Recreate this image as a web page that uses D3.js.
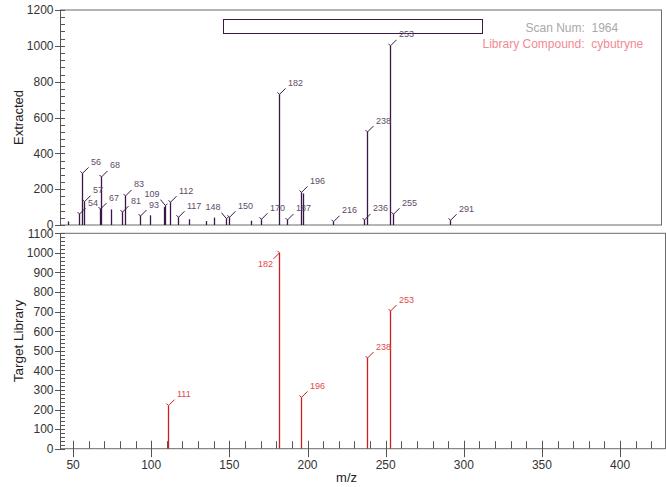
<!DOCTYPE html>
<html><head><meta charset="utf-8">
<script src="https://cdnjs.cloudflare.com/ajax/libs/d3/7.8.5/d3.min.js"></script>
<style>
html,body{margin:0;padding:0;background:#fff;}
svg{display:block;font-family:"Liberation Sans",Arial,sans-serif;}
</style></head><body>
<div id="chart"></div>
<script>
// ---- data ----
const topMz  = [47, 54, 56, 57, 67, 68, 74, 81, 83, 93, 99, 108, 109, 112, 117, 124, 135, 140, 148, 150, 164, 170, 182, 187, 196, 197, 216, 236, 238, 253, 255, 291];
const topInt = [20, 61, 288, 130, 89, 268, 87, 72, 162, 50, 54, 100, 108, 127, 43, 32, 22, 41, 35, 43, 24, 32, 729, 28, 182, 176, 18, 28, 519, 1000, 60, 26];
const topLabeled = [54, 56, 57, 67, 68, 81, 83, 93, 109, 112, 117, 148, 150, 170, 182, 187, 196, 216, 236, 238, 253, 255, 291];
const topLeftLabels = [109, 148];
const botMz  = [111, 182, 196, 238, 253];
const botInt = [220, 1000, 262, 463, 703];
const botBelowLeftLabels = [182];
const topYTicks = [0, 200, 400, 600, 800, 1000, 1200];
const botYTicks = [0, 100, 200, 300, 400, 500, 600, 700, 800, 900, 1000, 1100];
const xTicks = [50, 100, 150, 200, 250, 300, 350, 400];
const scanNum = "1964";
const compound = "cybutryne";

const W = 666, H = 487;
const svg = d3.select("#chart").append("svg").attr("width", W).attr("height", H);

const x = d3.scaleLinear().domain([50, 400]).range([73.07, 620.1]);
const yTop = d3.scaleLinear().domain([0, 1200]).range([225, 10]);
const yBot = d3.scaleLinear().domain([0, 1100]).range([448.7, 233.3]);

const axisCol = "#555", frameCol = "#6b6b6b";
const topStick = "#3b1747", topLabel = "#5e4c69";
const botStick = "#cc1f1f", botLabel = "#e34a4a";

// frames
const tL = 60.5, tR = 661.5, bL = 60.5, bR = 665.5;
svg.append("rect").attr("x", tL).attr("y", yTop(1200)).attr("width", tR - tL).attr("height", yTop(0) - yTop(1200))
  .attr("fill", "none").attr("stroke", frameCol).attr("stroke-width", 1);
svg.append("rect").attr("x", bL).attr("y", yBot(1100)).attr("width", bR - bL).attr("height", yBot(0) - yBot(1100))
  .attr("fill", "none").attr("stroke", frameCol).attr("stroke-width", 1);

// y axes
function yAxis(scale, majors, minorStep, maxV, left) {
  const g = svg.append("g");
  g.append("line").attr("x1", left).attr("x2", left).attr("y1", scale(0)).attr("y2", scale(maxV)).attr("stroke", axisCol);
  const minors = d3.range(0, maxV + 0.001, minorStep).filter(v => !majors.includes(v));
  g.selectAll(".mn").data(minors).join("line")
    .attr("x1", left).attr("x2", left + 4.5).attr("y1", d => Math.round(scale(d)) + 0.5).attr("y2", d => Math.round(scale(d)) + 0.5)
    .attr("stroke", axisCol);
  g.selectAll(".mj").data(majors).join("line")
    .attr("x1", left - 5.5).attr("x2", left + 4.5).attr("y1", d => Math.round(scale(d)) + 0.5).attr("y2", d => Math.round(scale(d)) + 0.5)
    .attr("stroke", axisCol);
  g.selectAll(".lb").data(majors).join("text")
    .attr("x", left - 7).attr("y", d => scale(d) + 4.3).attr("text-anchor", "end")
    .attr("font-size", 12).attr("fill", "#333").text(d => d);
}
yAxis(yTop, topYTicks, 40, 1200, tL);
yAxis(yBot, botYTicks, 20, 1100, bL);

// x axis (bottom panel)
const xMinor = d3.range(50, 421, 10).filter(v => !xTicks.includes(v));
const xa = svg.append("g");
xa.selectAll(".mn").data(xMinor).join("line")
  .attr("x1", d => Math.round(x(d)) + 0.5).attr("x2", d => Math.round(x(d)) + 0.5)
  .attr("y1", yBot(0) - 7.5).attr("y2", yBot(0)).attr("stroke", axisCol);
xa.selectAll(".mj").data(xTicks).join("line")
  .attr("x1", d => Math.round(x(d)) + 0.5).attr("x2", d => Math.round(x(d)) + 0.5)
  .attr("y1", yBot(0) - 8).attr("y2", yBot(0) + 8.5).attr("stroke", axisCol);
xa.selectAll(".lb").data(xTicks).join("text")
  .attr("x", d => x(d)).attr("y", 469).attr("text-anchor", "middle")
  .attr("font-size", 12).attr("fill", "#333").text(d => d);

// axis titles
svg.append("text").attr("transform", `translate(23,${(yTop(0) + yTop(1200)) / 2}) rotate(-90)`)
  .attr("text-anchor", "middle").attr("font-size", 13).attr("fill", "#222").text("Extracted");
svg.append("text").attr("transform", `translate(23,${(yBot(0) + yBot(1100)) / 2}) rotate(-90)`)
  .attr("text-anchor", "middle").attr("font-size", 13.5).attr("fill", "#222").text("Target Library");
svg.append("text").attr("x", x(225)).attr("y", 482).attr("text-anchor", "middle")
  .attr("font-size", 13).attr("fill", "#222").text("m/z");

// legend box and text
svg.append("rect").attr("x", 223.5).attr("y", 19.5).attr("width", 259).attr("height", 14)
  .attr("fill", "#fff").attr("stroke", topStick).attr("stroke-width", 1);
svg.append("text").attr("x", 525.5).attr("y", 31.5).attr("font-size", 12).attr("fill", "#a9a9a9")
  .attr("xml:space", "preserve").style("white-space", "pre").text("Scan Num:  " + scanNum);
svg.append("text").attr("x", 482.5).attr("y", 47.5).attr("font-size", 12).attr("fill", "#f08a95")
  .attr("xml:space", "preserve").style("white-space", "pre").text("Library Compound:  " + compound);

// sticks
function sticks(mz, ints, scale, col, labelCol, labeled, leftUp, leftDown) {
  const data = mz.map((m, i) => ({ m, v: ints[i] }));
  const g = svg.append("g");
  g.selectAll("line.s").data(data).join("line")
    .attr("x1", d => Math.round(x(d.m)) + 0.5).attr("x2", d => Math.round(x(d.m)) + 0.5)
    .attr("y1", scale(0)).attr("y2", d => scale(d.v))
    .attr("stroke", col).attr("stroke-width", 1.3);
  const lab = data.filter(d => labeled.includes(d.m));
  lab.forEach(d => {
    const px = Math.round(x(d.m)) + 0.5, py = scale(d.v);
    let path, tx, ty, anchor;
    if (leftUp.includes(d.m)) {
      path = `M${px},${py}L${px - 5},${py - 6}M${px},${py}L${px + 2},${py - 2}`;
      tx = px - 6; ty = py - 8.5; anchor = "end";
    } else if (leftDown.includes(d.m)) {
      path = `M${px},${py}L${px - 6},${py + 6}M${px},${py}L${px - 2},${py - 2}`;
      tx = px - 6.5; ty = py + 14.5; anchor = "end";
    } else {
      path = `M${px},${py}L${px + 6},${py - 6}M${px},${py}L${px - 2},${py - 2}`;
      tx = px + 8.5; ty = py - 8.5; anchor = "start";
    }
    g.append("path").attr("d", path).attr("stroke", col).attr("stroke-width", 1).attr("fill", "none");
    g.append("text").attr("x", tx).attr("y", ty).attr("text-anchor", anchor)
      .attr("font-size", 9).attr("fill", labelCol).text(d.m);
  });
}
sticks(topMz, topInt, yTop, topStick, topLabel, topLabeled, topLeftLabels, []);
sticks(botMz, botInt, yBot, botStick, botLabel, botMz, [], botBelowLeftLabels);
</script>
</body></html>
